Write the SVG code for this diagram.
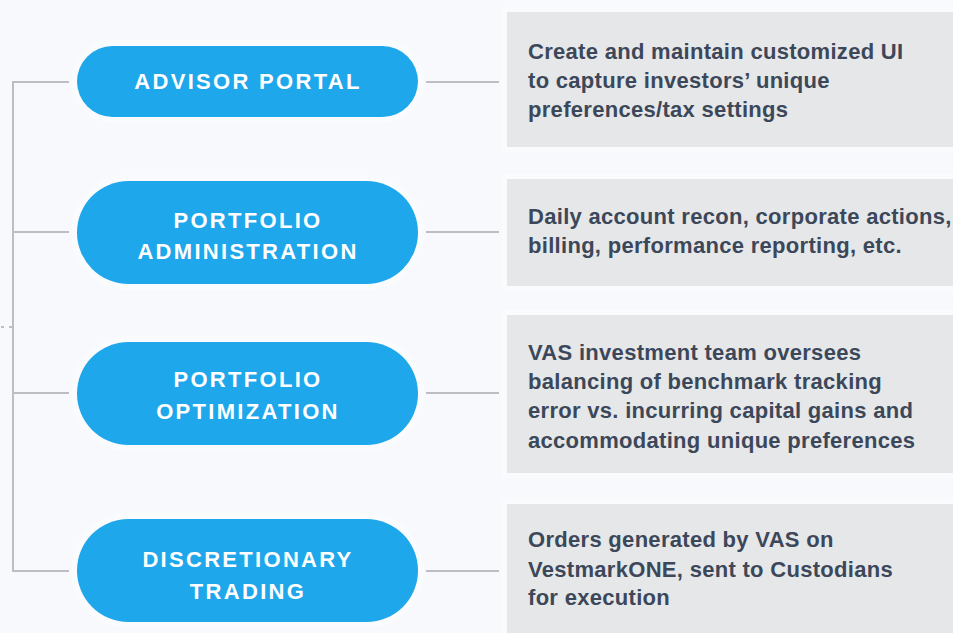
<svg xmlns="http://www.w3.org/2000/svg" width="953" height="633" viewBox="0 0 953 633">
<style>
.pill{fill:#1ea7eb;stroke:#fafbfd;stroke-width:12;paint-order:stroke}
.ptxt{font-family:"Liberation Sans",Arial,sans-serif;font-weight:bold;font-size:22px;letter-spacing:2.3px;fill:#ffffff;text-anchor:middle}
.box{fill:#e6e7e9;stroke:#fafbfd;stroke-width:10;paint-order:stroke}
.btxt{font-family:"Liberation Sans",Arial,sans-serif;font-weight:bold;font-size:22px;letter-spacing:0.3px;fill:#3c4859}
.conn{stroke:#bdbec1;stroke-width:2;fill:none}
</style>
<rect x="0" y="0" width="953" height="633" fill="#f7f9fc"/>
<g id="connectors">
<path class="conn" d="M69 82H13V571H69M13 232H69M13 393H69"/>
<path class="conn" d="M426 82H499M426 232H499M426 393H499M426 571H499"/>
<line x1="1" y1="327" x2="12" y2="327" stroke="#bdbec1" stroke-width="2" stroke-dasharray="3 5"/>
</g>
<g id="advisor-portal">
<rect class="pill" x="77" y="46" width="341" height="71" rx="35.5"/>
<text class="ptxt" x="248" y="89">ADVISOR PORTAL</text>
</g>
<g id="portfolio-administration">
<rect class="pill" x="77" y="181" width="341" height="103" rx="51.5"/>
<text class="ptxt" x="248" y="228">PORTFOLIO</text>
<text class="ptxt" x="248" y="259">ADMINISTRATION</text>
</g>
<g id="portfolio-optimization">
<rect class="pill" x="77" y="342" width="341" height="103" rx="51.5"/>
<text class="ptxt" x="248" y="387">PORTFOLIO</text>
<text class="ptxt" x="248" y="419">OPTIMIZATION</text>
</g>
<g id="discretionary-trading">
<rect class="pill" x="77" y="519" width="341" height="103" rx="51.5"/>
<text class="ptxt" x="248" y="567">DISCRETIONARY</text>
<text class="ptxt" x="248" y="599">TRADING</text>
</g>
<g id="desc-advisor-portal">
<rect class="box" x="507" y="12" width="460" height="135"/>
<text class="btxt" x="528" y="59">Create and maintain customized UI</text>
<text class="btxt" x="528" y="88">to capture investors’ unique</text>
<text class="btxt" x="528" y="117">preferences/tax settings</text>
</g>
<g id="desc-portfolio-administration">
<rect class="box" x="507" y="179" width="460" height="107"/>
<text class="btxt" x="528" y="224">Daily account recon, corporate actions,</text>
<text class="btxt" x="528" y="253">billing, performance reporting, etc.</text>
</g>
<g id="desc-portfolio-optimization">
<rect class="box" x="507" y="315" width="460" height="158"/>
<text class="btxt" x="528" y="360">VAS investment team oversees</text>
<text class="btxt" x="528" y="389">balancing of benchmark tracking</text>
<text class="btxt" x="528" y="418">error vs. incurring capital gains and</text>
<text class="btxt" x="528" y="448">accommodating unique preferences</text>
</g>
<g id="desc-discretionary-trading">
<rect class="box" x="507" y="504" width="460" height="140"/>
<text class="btxt" x="528" y="547">Orders generated by VAS on</text>
<text class="btxt" x="528" y="577">VestmarkONE, sent to Custodians</text>
<text class="btxt" x="528" y="605">for execution</text>
</g>
</svg>
